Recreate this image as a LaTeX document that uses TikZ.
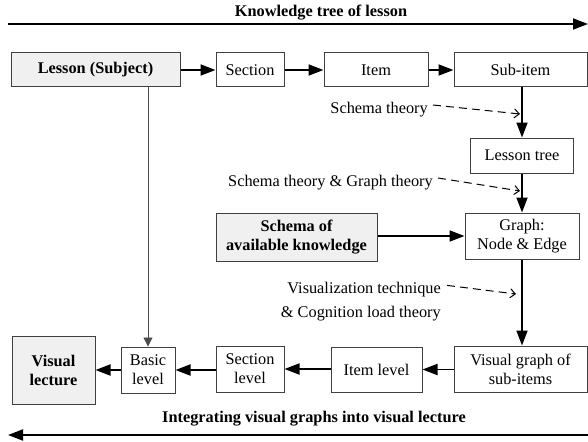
\documentclass[tikz,border=0pt]{standalone}
\usepackage{fontspec}
\setmainfont{Liberation Serif}
\usetikzlibrary{arrows.meta}

\begin{document}
\begin{tikzpicture}[x=1pt, y=-1pt, font=\fontsize{16.3}{19}\selectfont,
  box/.style={draw=black!75, line width=1pt, fill=white, inner sep=0pt, minimum height=34pt, align=center},
  keybox/.style={box, fill=black!6, font=\fontsize{16.3}{19}\selectfont\bfseries},
  flow/.style={line width=1.8pt, -{Triangle[length=15pt,width=11pt]}},
  link/.style={line width=0.8pt, black!70, -{Triangle[length=9pt,width=9pt]}},
  hint/.style={line width=1pt, dash pattern=on 8pt off 5pt, -{Straight Barb[length=5pt,width=9pt]}},
  title/.style={font=\fontsize{16.3}{19}\selectfont\bfseries, inner sep=0pt}]
\useasboundingbox (0,0) rectangle (588,441);
\node[title] (toptitle) at (321,13) {Knowledge tree of lesson};
\coordinate (topL) at (8,24);
\coordinate (topR) at (588,24);
\draw[flow] (topL) -- (topR);
\node[keybox, minimum width=169pt] (lesson) at (95.5,70) {Lesson (Subject)};
\node[box, minimum width=68pt] (section) at (250,70) {Section};
\node[box, minimum width=104pt] (item) at (376,70) {Item};
\node[box, minimum width=133pt] (subitem) at (520.5,70) {Sub-item};
\node[box, minimum width=103pt, minimum height=35pt] (tree) at (522,155.5) {Lesson tree};
\node[box, minimum width=114pt, minimum height=46pt] (graph) at (522,236) {Graph:\\Node \& Edge};
\node[keybox, minimum width=161pt, minimum height=48pt] (schema) at (296.5,237) {Schema of\\available knowledge};
\node[box, minimum width=133pt, minimum height=46pt] (visgraph) at (520.5,369) {Visual graph of\\sub-items};
\node[box, minimum width=91pt, minimum height=45pt] (itemlevel) at (376.5,369.5) {Item level};
\node[box, minimum width=68pt, minimum height=46pt] (seclevel) at (250,369) {Section\\level};
\node[box, minimum width=54pt, minimum height=46pt] (basic) at (148,370) {Basic\\level};
\node[keybox, minimum width=83pt, minimum height=68pt] (lecture) at (53.5,370) {Visual\\lecture};
\draw[flow] (lesson) -- (section);
\draw[flow] (section) -- (item);
\draw[flow] (item) -- (subitem);
\draw[flow] (subitem.south -| tree.north) -- (tree.north);
\draw[flow] (tree) -- (graph);
\draw[flow] (schema.east |- graph.west) -- (graph.west);
\draw[flow] (graph.south) -- (graph.south |- visgraph.north);
\draw[flow] (visgraph.west |- itemlevel.east) -- (itemlevel.east);
\draw[flow] (itemlevel.west |- seclevel.east) -- (seclevel.east);
\draw[flow] (seclevel.west |- basic.east) -- (basic.east);
\draw[flow] (basic) -- (lecture);
\draw[link] (lesson.south -| basic.north) -- (basic.north);
\node[anchor=east, inner sep=0pt] (st1) at (428,110) {Schema theory};
\coordinate (h1) at (520,114);
\draw[hint] ([xshift=5pt,yshift=5pt]st1.east) -- (h1);
\node[anchor=east, inner sep=0pt] (st2) at (433,183) {Schema theory \& Graph theory};
\coordinate (h2) at (520,191);
\draw[hint] ([xshift=5pt,yshift=5pt]st2.east) -- (h2);
\node[anchor=east, align=right, inner sep=0pt, font=\fontsize{16.3}{24}\selectfont] (st3) at (441,302) {Visualization technique\\\& Cognition load theory};
\coordinate (h3) at (516,294);
\draw[hint] ([xshift=6pt,yshift=-3pt]st3.north east) -- (h3);
\node[title] (bottitle) at (314,419) {Integrating visual graphs into visual lecture};
\coordinate (botR) at (588,435);
\coordinate (botL) at (8,435);
\draw[flow] (botR) -- (botL);
\end{tikzpicture}
\end{document}
